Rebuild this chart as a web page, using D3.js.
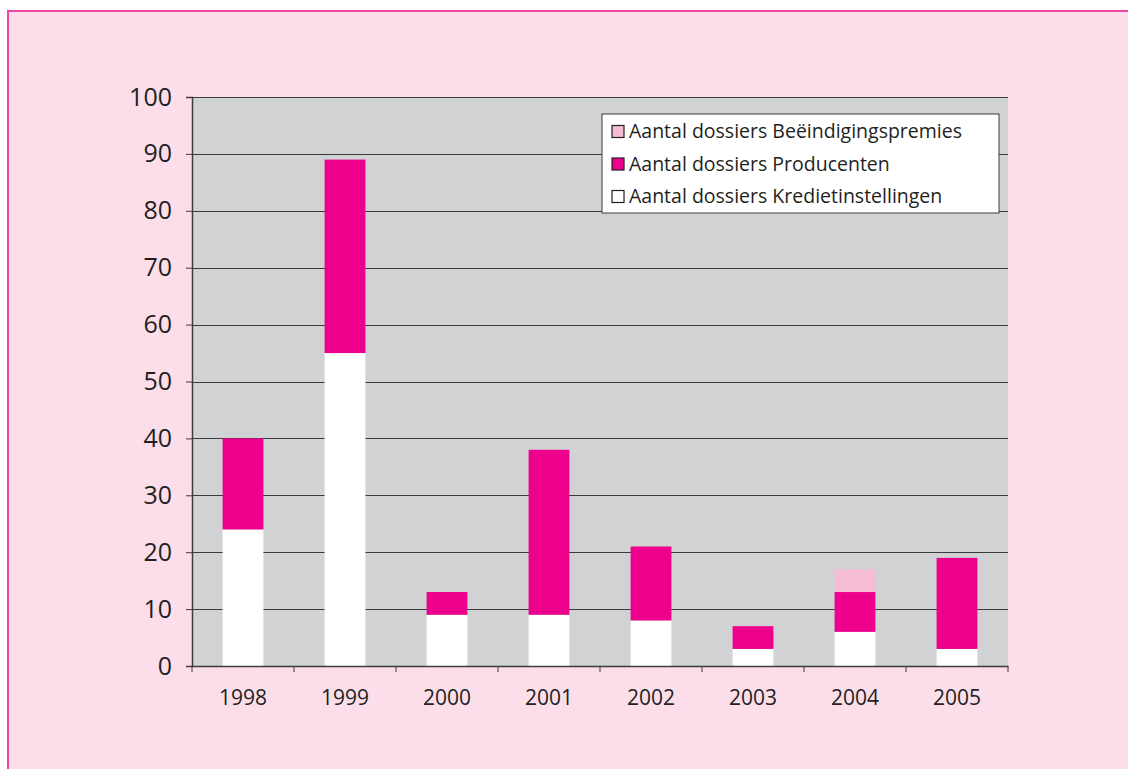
<!DOCTYPE html>
<html>
<head>
<meta charset="utf-8">
<script src="https://cdn.jsdelivr.net/npm/d3@7"></script>
<style>
  body { margin: 0; background: #ffffff; }
  svg text { font-family: "Open Sans", "Noto Sans", sans-serif; fill: #231f20; }
</style>
</head>
<body>
<div id="chart"></div>
<script>
// Chart data
const years = ["1998", "1999", "2000", "2001", "2002", "2003", "2004", "2005"];
const kredietinstellingen = [24, 55, 9, 9, 8, 3, 6, 3];
const producenten = [16, 34, 4, 29, 13, 4, 7, 16];
const beeindigingspremies = [0, 0, 0, 0, 0, 0, 4, 0];
const seriesNames = [
    "Aantal dossiers Kredietinstellingen",
    "Aantal dossiers Producenten",
    "Aantal dossiers Beëindigingspremies"
];
const seriesColors = ["#ffffff", "#ec008c", "#f5bcd6"];
const yTicks = [0, 10, 20, 30, 40, 50, 60, 70, 80, 90, 100];

const width = 1128;
const height = 769;
const margin = { top: 97, right: 120, bottom: 103, left: 192 };

const svg = d3.select("#chart")
    .append("svg")
    .attr("width", width)
    .attr("height", height);

// Pink panel with border
svg.append("rect")
    .attr("x", 8)
    .attr("y", 11)
    .attr("width", width + 20)
    .attr("height", height + 20)
    .attr("fill", "#fbdeea")
    .attr("stroke", "#ef45a4")
    .attr("stroke-width", 2);

// Build table for stack
const table = years.map((y, i) => ({
    year: y,
    k: kredietinstellingen[i],
    p: producenten[i],
    b: beeindigingspremies[i]
}));
const stack = d3.stack().keys(["k", "p", "b"])(table);

const x = d3.scaleBand()
    .domain(years)
    .range([margin.left, width - margin.right])
    .paddingInner(0.6)
    .paddingOuter(0.3);

const y = d3.scaleLinear()
    .domain([0, 100])
    .range([height - margin.bottom, margin.top]);

// Plot background
svg.append("rect")
    .attr("x", margin.left)
    .attr("y", margin.top)
    .attr("width", width - margin.right - margin.left)
    .attr("height", y(0) - margin.top)
    .attr("fill", "#d1d2d4");

// Gridlines
svg.append("g")
    .selectAll("line")
    .data(yTicks.filter(d => d > 0))
    .enter().append("line")
    .attr("x1", margin.left)
    .attr("x2", width - margin.right)
    .attr("y1", d => Math.round(y(d)) + 0.5)
    .attr("y2", d => Math.round(y(d)) + 0.5)
    .attr("stroke", "#3c3c3c")
    .attr("stroke-width", 1.2);

// Bars
svg.append("g")
    .selectAll("g")
    .data(stack)
    .enter().append("g")
    .attr("fill", (d, i) => seriesColors[i])
    .selectAll("rect")
    .data(d => d.filter(s => s[1] > s[0]))
    .enter().append("rect")
    .attr("x", d => x(d.data.year))
    .attr("y", d => y(d[1]))
    .attr("width", x.bandwidth())
    .attr("height", d => y(d[0]) - y(d[1]));

// Y axis
const yAxis = svg.append("g")
    .attr("transform", `translate(${margin.left},0)`)
    .call(d3.axisLeft(y).tickValues(yTicks).tickSize(6).tickPadding(14));
yAxis.selectAll("text")
    .style("font-size", "25px")
    .style("font-weight", "500")
    .attr("fill", "#231f20");

// X axis with ticks at category boundaries
const xAxis = svg.append("g")
    .attr("transform", `translate(0,${y(0)})`)
    .call(d3.axisBottom(x).tickSize(0).tickPadding(24));
xAxis.selectAll("text")
    .style("font-size", "21px")
    .attr("fill", "#231f20");

const bounds = d3.range(years.length + 1).map(i => margin.left + i * (width - margin.right - margin.left) / years.length);
xAxis.selectAll(".bound")
    .data(bounds)
    .enter().append("line")
    .attr("class", "bound")
    .attr("x1", d => d)
    .attr("x2", d => d)
    .attr("y1", 0)
    .attr("y2", 6)
    .attr("stroke", "#3c3c3c");

svg.selectAll(".domain").attr("stroke", "#3c3c3c").attr("stroke-width", 1.5);
svg.selectAll(".tick line").attr("stroke", "#3c3c3c");

// Legend
const legend = svg.append("g").attr("transform", "translate(602,114)");
legend.append("rect")
    .attr("width", 397)
    .attr("height", 99)
    .attr("fill", "#ffffff")
    .attr("stroke", "#3c3c3c")
    .attr("stroke-width", 1);

const legendOrder = [2, 1, 0];
legendOrder.forEach((s, i) => {
    const row = legend.append("g").attr("transform", `translate(10,${17.5 + i * 32.5})`);
    row.append("rect")
        .attr("x", 0)
        .attr("y", -6)
        .attr("width", 12)
        .attr("height", 12)
        .attr("fill", seriesColors[s])
        .attr("stroke", "#231f20")
        .attr("stroke-width", 1.2);
    row.append("text")
        .attr("x", 17)
        .attr("y", 0)
        .attr("dy", "0.35em")
        .style("font-size", "19.5px")
        .text(seriesNames[s]);
});
</script>
</body>
</html>
